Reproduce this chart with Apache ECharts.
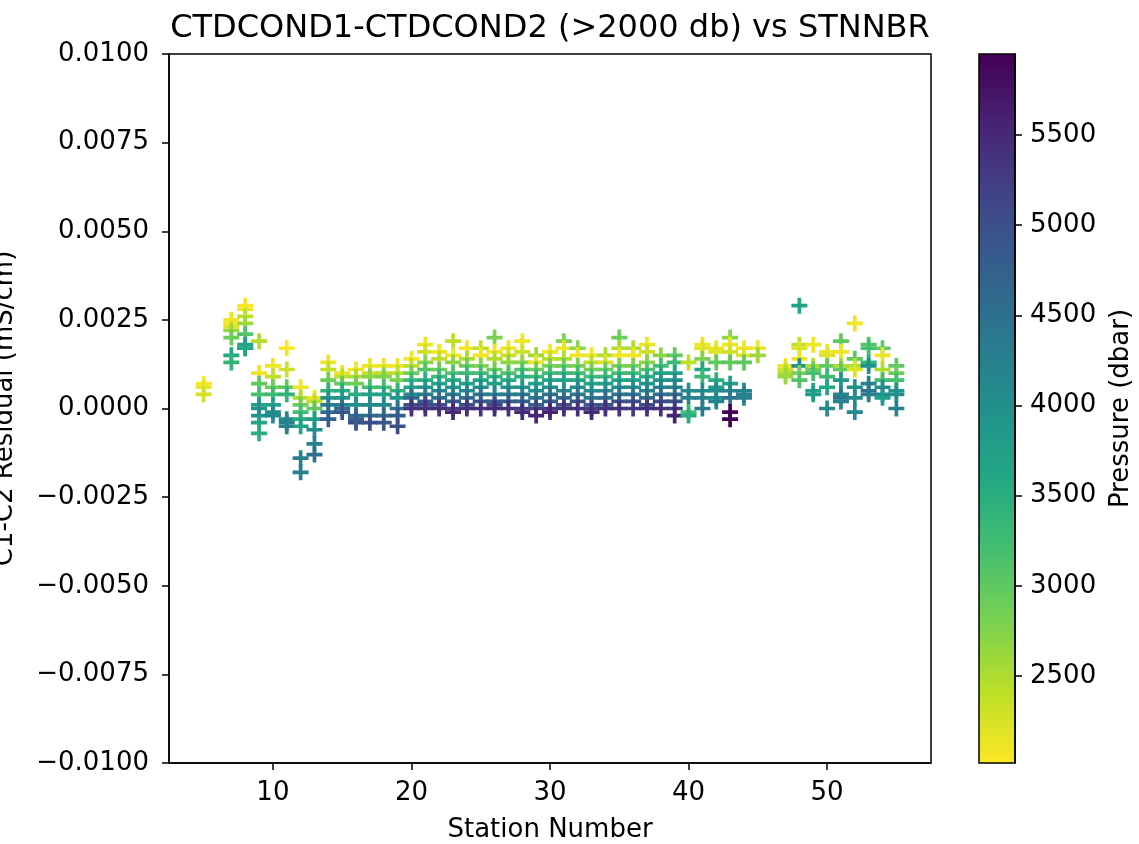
<!DOCTYPE html>
<html>
<head>
<meta charset="utf-8">
<title>CTDCOND1-CTDCOND2 (>2000 db) vs STNNBR</title>
<script src="https://cdn.jsdelivr.net/npm/echarts@6/dist/echarts.min.js"></script>
<style>
  html, body { margin: 0; padding: 0; background: #fff; }
  #chart { width: 1139px; height: 844px; }
</style>
</head>
<body>
<div id="chart"></div>
<script>
// station numbers, one entry per cast
const stations = [5, 7, 8, 9, 10, 11, 12, 13, 14, 15, 16, 17, 18, 19,
  20, 21, 22, 23, 24, 25, 26, 27, 28, 29, 30, 31, 32, 33, 34, 35, 36, 37, 38, 39, 40,
  41, 42, 43, 44, 45, 47, 48, 49, 50, 51, 52, 53, 54, 55]

// C1-C2 residual per bottle, in units of 1e-4 mS/cm
const residuals = [
  [7, 6, 4],
  [25, 24, 23, 22, 20, 15, 13],
  [29, 28, 26, 24, 21, 18, 17, 17],
  [19, 10, 7, 4, 1, 0, -2, -4, -7],
  [12, 9, 6, 4, 1, -1, -2],
  [17, 11, 6, 4, -3, -5, -4],
  [6, 3, 1, -1, -3, -5, -14, -18],
  [3, 2, 0, -3, -6, -10, -13],
  [13, 11, 8, 5, 3, 1, -1, -3],
  [10, 9, 7, 5, 3, 1, 0, -1],
  [11, 9, 7, 4, 1, -2, -4, -3],
  [12, 10, 9, 6, 4, 1, -2, -4],
  [12, 10, 9, 6, 4, 1, -2, -4],
  [12, 10, 8, 5, 3, 0, -2, -5],
  [14, 12, 10, 8, 6, 4, 3, 1, 0],
  [18, 16, 13, 11, 8, 6, 4, 2, 1, 0],
  [16, 14, 11, 9, 7, 5, 3, 1, 0],
  [19, 15, 13, 10, 8, 6, 4, 2, 0, -1],
  [17, 14, 12, 10, 7, 5, 3, 1, 0],
  [17, 15, 12, 10, 8, 6, 4, 2, 0],
  [20, 16, 14, 11, 9, 7, 4, 2, 1, 0],
  [17, 15, 13, 10, 8, 6, 4, 2, 0],
  [19, 16, 13, 11, 9, 6, 4, 2, 0, -1],
  [15, 13, 11, 9, 7, 5, 3, 1, 0, -2],
  [16, 14, 12, 10, 8, 6, 4, 2, 0, -1],
  [19, 17, 14, 12, 10, 8, 5, 3, 1, 0],
  [17, 15, 12, 10, 8, 6, 4, 2, 0],
  [15, 13, 11, 9, 7, 5, 3, 1, 0, -1],
  [15, 13, 11, 9, 7, 5, 3, 1, 0],
  [20, 17, 15, 12, 10, 8, 6, 4, 2, 0],
  [17, 15, 12, 10, 8, 6, 4, 2, 0],
  [18, 16, 13, 11, 9, 7, 5, 3, 1, 0],
  [15, 12, 10, 8, 6, 4, 2, 0],
  [15, 13, 10, 8, 6, 4, 2, 0, -2],
  [13, 5, 3, -1, -2],
  [18, 17, 14, 11, 9, 5, 3, 0],
  [17, 16, 13, 8, 6, 5, 3, 2],
  [20, 18, 16, 13, 7, 5, 3, -1, -3],
  [17, 15, 13, 5, 4, 3],
  [17, 15],
  [12, 11, 10, 9],
  [29, 18, 17, 14, 12, 10, 8],
  [18, 12, 11, 10, 5, 4],
  [16, 15, 12, 9, 6, 0],
  [19, 16, 12, 11, 8, 4, 3, 2],
  [24, 14, 12, 11, 6, 3, -1],
  [18, 17, 13, 12, 7, 5, 4],
  [17, 15, 11, 8, 6, 4, 3],
  [12, 10, 8, 5, 4, 0]
]

// bottle pressure (dbar), same layout as residuals
const pressures = [
  [2050, 2150, 2250],
  [2100, 2050, 2200, 2600, 2900, 3600, 3400],
  [2050, 2100, 2400, 2600, 3100, 3700, 3900, 3600],
  [2450, 2100, 3000, 3200, 3700, 3900, 4000, 3700, 3500],
  [2100, 2400, 2900, 3300, 3700, 4000, 4100],
  [2050, 2300, 3000, 3400, 4100, 4300, 4200],
  [2100, 2500, 2900, 3200, 3500, 3700, 4200, 4300],
  [2100, 2400, 3000, 3800, 4000, 4200, 4500],
  [2100, 2400, 2900, 3400, 3900, 4300, 4500, 4800],
  [2100, 2400, 3000, 3500, 3900, 4200, 4600, 4900],
  [2100, 2500, 2900, 3500, 4000, 4500, 5000, 4800],
  [2100, 2300, 2700, 3200, 3700, 4100, 4500, 5000],
  [2100, 2400, 2800, 3200, 3700, 4100, 4600, 4900],
  [2100, 2400, 2800, 3400, 3900, 4400, 4800, 5000],
  [2050, 2400, 2900, 3300, 3700, 4100, 4500, 5000, 5400],
  [2100, 2300, 2700, 3100, 3500, 3900, 4300, 4700, 5100, 5400],
  [2100, 2400, 2900, 3300, 3700, 4100, 4500, 5000, 5400],
  [2400, 2100, 2700, 3100, 3500, 3900, 4300, 4800, 5300, 5500],
  [2100, 2500, 2900, 3300, 3700, 4100, 4500, 5000, 5400],
  [2400, 2100, 2800, 3200, 3600, 4000, 4400, 4900, 5400],
  [2800, 2100, 2500, 2900, 3400, 3800, 4200, 4700, 5100, 5500],
  [2100, 2300, 2700, 3100, 3500, 3900, 4300, 4800, 5400],
  [2100, 2300, 2700, 3100, 3500, 3900, 4300, 4700, 5200, 5500],
  [2600, 2100, 2900, 3300, 3700, 4000, 4400, 4800, 5200, 5550],
  [2100, 2400, 2800, 3200, 3600, 4000, 4400, 4800, 5300, 5550],
  [2800, 2100, 2500, 2900, 3300, 3700, 4100, 4500, 5000, 5400],
  [2700, 2100, 2800, 3200, 3600, 4000, 4400, 4900, 5400],
  [2100, 2400, 2800, 3200, 3600, 4000, 4400, 4800, 5200, 5500],
  [2500, 2200, 2900, 3300, 3700, 4100, 4500, 4900, 5400],
  [2900, 2500, 2100, 2800, 3200, 3600, 4000, 4400, 4900, 5400],
  [2500, 2100, 2800, 3200, 3600, 4000, 4400, 4900, 5300],
  [2100, 2300, 2700, 3100, 3500, 3900, 4200, 4600, 5000, 5400],
  [2700, 3200, 3600, 3900, 4200, 4500, 5000, 5400],
  [3000, 3300, 3700, 4000, 4200, 4500, 4900, 5300, 5600],
  [2400, 4000, 4200, 3200, 3500],
  [2100, 2200, 2800, 3600, 3300, 4100, 4200, 4300],
  [2100, 2200, 3000, 3500, 3800, 4100, 4000, 4200],
  [2700, 2100, 2300, 3000, 3700, 4100, 4400, 5900, 5950],
  [2100, 2200, 3000, 4200, 4300, 4200],
  [2100, 2600],
  [2100, 2300, 2500, 2600],
  [3700, 2400, 2200, 2100, 4000, 2800, 3100],
  [2100, 2500, 2900, 3200, 3700, 3800],
  [2100, 2200, 3000, 3300, 3600, 4100],
  [3000, 2100, 2500, 3000, 3900, 4200, 4500, 4200],
  [2100, 3000, 2500, 2200, 4000, 4100, 4100],
  [3100, 3200, 3400, 4000, 4200, 4500, 4300],
  [3000, 2100, 2500, 3200, 4000, 4100, 3800],
  [3000, 2900, 3200, 3900, 4000, 4200]
]

const xTicks = [10, 20, 30, 40, 50]
const pressureTicks = [2500, 3000, 3500, 4000, 4500, 5000, 5500]

// viridis, reversed (low pressure = yellow)
const viridisR = ['#fde725', '#bddf26', '#7ad151', '#44bf70', '#22a884', '#21918c',
  '#2a788e', '#355f8d', '#414487', '#482475', '#440154']

const points = []
stations.forEach((stn, i) => {
  residuals[i].forEach((r, j) => {
    points.push([stn, r * 1e-4, pressures[i][j]])
  })
})

const font = 'DejaVu Sans'
const black = { color: '#000', width: 1.5 }
const plusPath = 'path://M5,0 L8,0 L8,5 L13,5 L13,8 L8,8 L8,13 L5,13 L5,8 L0,8 L0,5 L5,5 Z'

const fmtResidual = v => {
  if (Math.abs(v) < 1e-12) return '0.0000'
  return (v < 0 ? '\u2212' : '') + Math.abs(v).toFixed(4)
}

const chart = echarts.init(document.getElementById('chart'), null, { renderer: 'canvas' })

const option = {
  animation: false,
  backgroundColor: '#fff',
  textStyle: { fontFamily: font },
  title: {
    text: 'CTDCOND1-CTDCOND2 (>2000 db) vs STNNBR',
    left: 550,
    top: 13,
    textAlign: 'center',
    padding: 0,
    textStyle: { fontSize: 32, fontWeight: 'normal', color: '#000', fontFamily: font }
  },
  grid: [
    {
      left: 169, top: 54, width: 762, height: 709,
      outerBoundsMode: 'none', containLabel: false,
      show: true, borderColor: '#000', borderWidth: 1.5, backgroundColor: 'transparent', z: 5
    },
    {
      left: 979, top: 54, width: 36, height: 709,
      outerBoundsMode: 'none', containLabel: false,
      show: true, borderColor: '#000', borderWidth: 1.5, backgroundColor: 'transparent', z: 10
    }
  ],
  xAxis: [
    {
      type: 'value',
      gridIndex: 0,
      min: 2.5,
      max: 57.5,
      name: 'Station Number',
      nameLocation: 'middle',
      nameGap: 54,
      nameTextStyle: { fontSize: 26, color: '#000', fontFamily: font },
      axisLine: { show: true, onZero: false, lineStyle: black },
      axisTick: { show: true, length: 7, lineStyle: black, customValues: xTicks },
      axisLabel: { fontSize: 26, color: '#000', margin: 17, customValues: xTicks, fontFamily: font },
      splitLine: { show: false }
    },
    {
      type: 'value',
      gridIndex: 1,
      min: 0,
      max: 1,
      show: false
    }
  ],
  yAxis: [
    {
      type: 'value',
      gridIndex: 0,
      min: -0.01,
      max: 0.01,
      interval: 0.0025,
      name: 'C1-C2 Residual (mS/cm)',
      nameLocation: 'middle',
      nameGap: 151,
      nameRotate: 90,
      nameTextStyle: { fontSize: 26, color: '#000', fontFamily: font },
      axisLine: { show: true, onZero: false, lineStyle: black },
      axisTick: { show: true, length: 7, lineStyle: black },
      axisLabel: { fontSize: 26, color: '#000', margin: 20, formatter: fmtResidual, fontFamily: font },
      splitLine: { show: false }
    },
    {
      type: 'value',
      gridIndex: 1,
      position: 'right',
      min: 2018,
      max: 5949,
      name: 'Pressure (dbar)',
      nameLocation: 'middle',
      nameGap: 93,
      nameRotate: 90,
      nameTextStyle: { fontSize: 26, color: '#000', fontFamily: font },
      axisLine: { show: true, onZero: false, lineStyle: black },
      axisTick: { show: true, length: 7, lineStyle: black, customValues: pressureTicks },
      axisLabel: {
        fontSize: 26, color: '#000', margin: 15, customValues: pressureTicks, fontFamily: font,
        formatter: v => String(v)
      },
      splitLine: { show: false },
      z: 10
    }
  ],
  visualMap: {
    type: 'continuous',
    dimension: 2,
    seriesIndex: 0,
    min: 2018,
    max: 5949,
    calculable: false,
    hoverLink: false,
    orient: 'vertical',
    left: 979,
    top: 54,
    itemWidth: 36,
    itemHeight: 709,
    padding: 0,
    z: 1,
    inRange: { color: viridisR }
  },
  series: [
    {
      type: 'scatter',
      xAxisIndex: 0,
      yAxisIndex: 0,
      data: points,
      symbol: plusPath,
      symbolSize: 16,
      itemStyle: { opacity: 1 }
    }
  ]
}

chart.setOption(option)
window.addEventListener('resize', () => chart.resize())
</script>
</body>
</html>
